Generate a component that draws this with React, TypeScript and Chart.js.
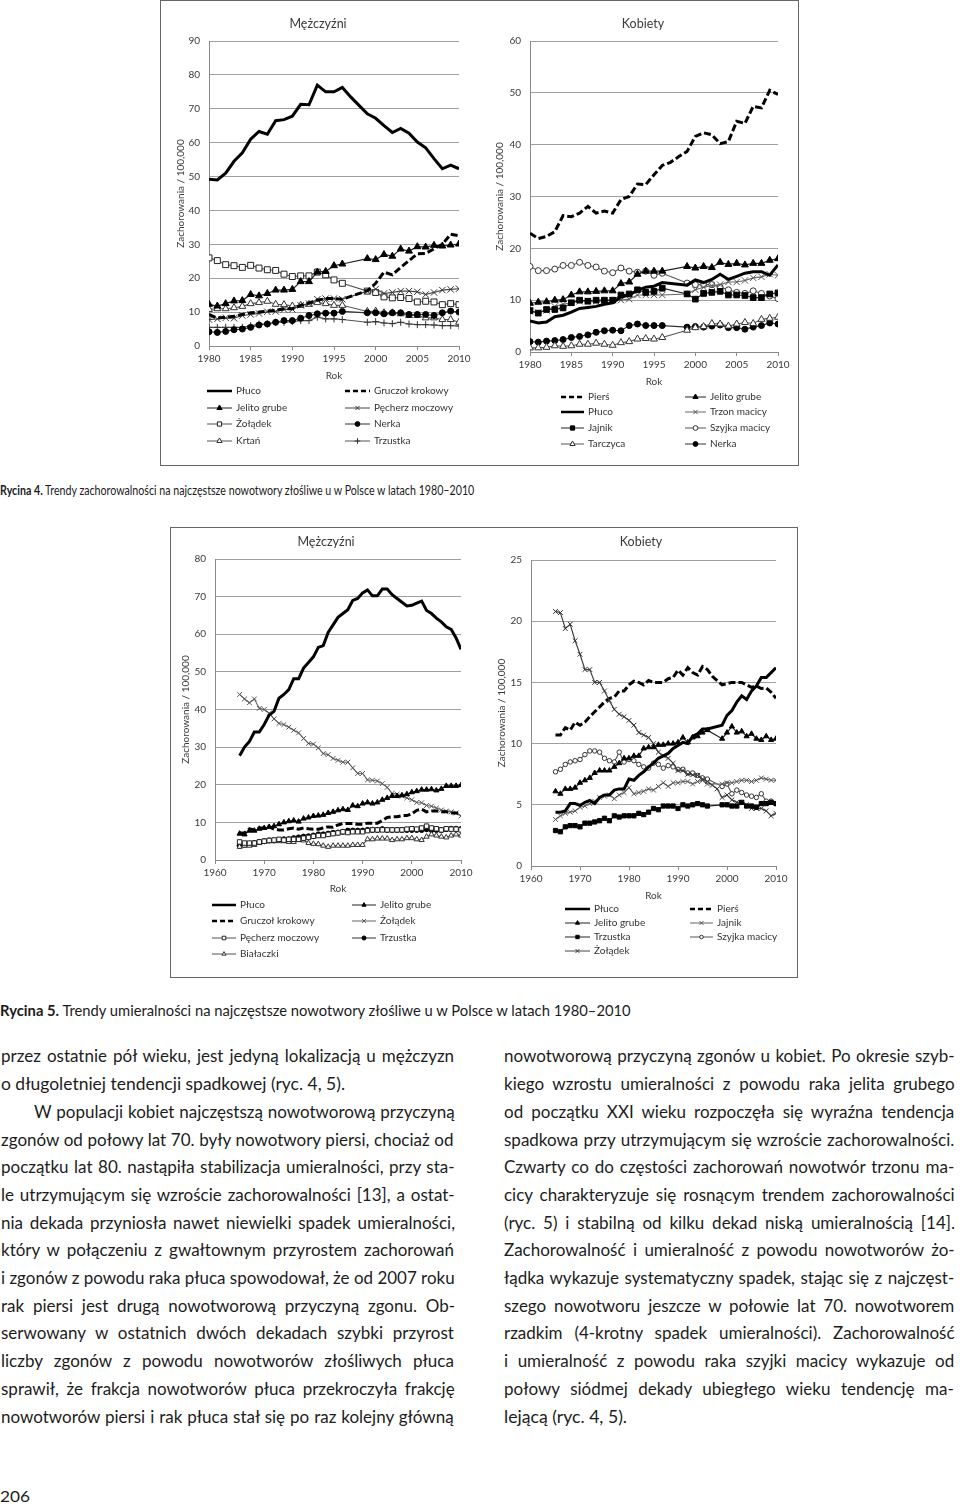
import React, { useEffect, useRef } from 'react';
import { Chart, registerables } from 'chart.js';

Chart.register(...registerables);
Chart.defaults.font.family = 'Lato';

// ---------------- DATA ----------------
const yearsInc = [1980, 1981, 1982, 1983, 1984, 1985, 1986, 1987, 1988, 1989, 1990, 1991, 1992, 1993, 1994, 1995, 1996, 1997, 1998, 1999, 2000, 2001, 2002, 2003, 2004, 2005, 2006, 2007, 2008, 2009, 2010];
const yearsMort = [1965, 1966, 1967, 1968, 1969, 1970, 1971, 1972, 1973, 1974, 1975, 1976, 1977, 1978, 1979, 1980, 1981, 1982, 1983, 1984, 1985, 1986, 1987, 1988, 1989, 1990, 1991, 1992, 1993, 1994, 1995, 1996, 1997, 1998, 1999, 2000, 2001, 2002, 2003, 2004, 2005, 2006, 2007, 2008, 2009, 2010];

const incTicksY_M = { max: 90, step: 10 };
const incTicksY_F = { max: 60, step: 10 };
const mortTicksY_M = { max: 80, step: 10 };
const mortTicksY_F = { max: 25, step: 5 };

// Rycina 4 – Mężczyźni (zachorowalność)
const mLungInc = [49.2, 49, 51, 54.5, 57, 61, 63.3, 62.5, 66.5, 66.8, 67.8, 71.3, 71.2, 77, 75, 75, 76.3, 73.5, 71, 68.5, 67.2, 65, 63, 64.2, 62.8, 60.2, 58.5, 55.3, 52.3, 53.4, 52.3];
const mProstateInc = [9.3, 8.2, 8.5, 8.8, 9.3, 9.8, 10, 10.3, 10.5, 11, 11, 12, 12.7, 13.5, 14, 14, 13.8, null, null, 16.3, 18.5, 21.8, 21, 23.2, 25.2, 27.2, 27.3, 28.7, 30, 33, 32.5];
const mColonInc = [12.3, 11.8, 12.5, 13.3, 13.4, 15.2, 14.8, 15.5, 16.5, 16.5, 16.7, 19, 19, 21.8, 22, 23.7, 24.2, null, null, 25.8, 25.5, 27, 26.5, 28.6, 28, 29.3, 29.2, 29.7, 29.5, 29.8, 30.1];
const mBladderInc = [7.8, 8, 8.3, 8.2, 9, 9.3, 9.6, 10.1, 10.2, 10.8, 10.8, 12, 12.5, 13.8, 14, 14, 13.8, null, null, 16.2, 16.8, 15.5, 15.8, 16.2, 16.2, 16, 15.2, 15.8, 16.5, 16.7, 16.9];
const mStomachInc = [26, 25.2, 24, 23.7, 23.2, 23.8, 23, 22.5, 22.3, 21.2, 20.5, 20.7, 20.7, 21.8, 21, 19.5, 18.5, null, null, 16.2, 15.8, 14.5, 14.2, 14.3, 14, 13, 13.2, 13, 12.2, 12.5, 12.2];
const mKidneyInc = [4.2, 4, 4.3, 4.8, 5, 5.5, 6.2, 6.5, 7, 7.5, 7.5, 8.2, 9, 9.5, 9.7, 9.7, 10.2, null, null, 9.8, 9.8, 9.5, 9.8, 9.8, 9.3, 9.3, 9.3, 9, 9.8, 10.3, 10];
const mLarynxInc = [10.8, 11, 11, 11.3, 11.7, 12.5, 12.8, 13.2, 12.3, 12.2, 11.8, 12, 12.3, 12.8, 12.5, 12, 12, null, null, 10.2, 10.3, 9.8, 9.8, 9.5, 9, 9, 8.3, 8.3, 7.8, 7.8, 7];
const mPancreasInc = [5.5, 5.5, 5.5, 5.5, 5.5, 6, 6.5, 6.5, 7, 7, 7.2, 7.5, 7.5, 8.5, 8, 8, 7.8, null, null, 7, 7.2, 6.8, 6.6, 7, 6.5, 6.3, 6.3, 6.2, 6, 6, 5.9];

// Rycina 4 – Kobiety (zachorowalność)
const fBreastInc = [22.9, 21.9, 22.3, 23.2, 26.3, 26.1, 26.8, 28.1, 26.8, 27.2, 26.8, 29.4, 30, 32.4, 32.3, 34.2, 36, 36.6, 37.7, 38.7, 41.6, 42.3, 41.9, 40.2, 40.6, 44.5, 44.1, 47.4, 47.1, 50.5, 49.7];
const fLungInc = [6, 5.6, 5.8, 6.8, 7.1, 7.7, 8.4, 8.6, 8.8, 9.2, 9.5, 10.6, 11, 11.9, 12.5, 12.7, 13.4, null, null, 12.9, 13.9, 13.4, 14, 15, 14, 14.6, 15.2, 15.5, 15.5, 14.8, 16.8];
const fOvaryInc = [8, 7.5, 8.2, 8.2, 8.5, 9.5, 10, 9.8, 10, 10, 10, 11, 11.2, 12, 11.5, 11.7, 12.3, null, null, 11.2, 10.2, 11.3, 11.5, 11.7, 11, 11, 10.9, 10.5, 10.5, 11.2, 11.4];
const fThyroidInc = [0.8, 0.8, 0.9, 1.2, 1.1, 1.2, 1.5, 1.5, 1.7, 1.5, 1.3, 1.8, 2, 2.5, 2.6, 2.5, 2.8, null, null, 4.2, 4.7, 4.9, 5.5, 5.4, 5, 5.4, 5.7, 5.5, 6.3, 6.5, 6.7];
const fColonInc = [9.4, 9.6, 9.7, 10, 10.1, 11, 11.6, 11.6, 11.7, 11.8, 11.8, 13.2, 13.5, 15, 15.6, 15.6, 15.6, null, null, 16.5, 16.2, 16.5, 16.3, 17.3, 16.9, 17.1, 16.8, 17.1, 17.1, 17.7, 18];
const fCorpusInc = [7.8, 7.6, 8, 8.8, 9.2, 9.5, 9.8, 9.8, 9.8, 9.8, 10, 10, 10.2, 11, 11, 11, 11, null, null, 11.2, 12, 12.5, 12.8, 13, 13.5, 13.5, 13.8, 14.3, 14.5, 15, 14.8];
const fCervixInc = [16.5, 15.7, 15.7, 16, 16.7, 16.7, 17.3, 16.7, 16.4, 15.6, 15.3, 16.2, 15.6, 15.4, 15.6, 14.8, 15.2, null, null, 13.3, 13, 13, 13, 12.5, 12, 11.5, 11.3, 11.8, 11.3, 10.8, 10.3];
const fKidneyInc = [2, 1.9, 2.1, 2.2, 2.4, 2.8, 3, 3.3, 3.8, 4.1, 4.2, 4.1, 5.1, 5.4, 5.1, 5.1, 5.1, null, null, 4.8, 4.9, 4.8, 5, 5.2, 4.7, 4.7, 4.4, 4.8, 5.1, 5.6, 5.4];

// Rycina 5 – Mężczyźni (umieralność)
const mLungMort = [27.7, 30, 31.5, 34, 34, 36, 38.5, 39.5, 43, 44, 45.3, 48.2, 48.2, 51, 52.5, 54, 56.5, 57, 60.5, 62.5, 64.5, 65.5, 66.5, 69, 69.5, 71, 71.8, 70.2, 70.2, 72, 72, 70.5, 69.5, 68.5, 67.5, 67.7, 68.3, 68.8, 66.3, 65.5, 64.3, 63.3, 62, 61.3, 59, 56];
const mProstateMort = [7.2, 7.2, 8.3, 8, 8.5, 8.5, 8.8, 8.2, 8, 8, 8.3, 8.5, 8.2, 8.5, 8.3, 8.2, 8.2, 8.5, 8.8, 8.7, 9.3, 9.7, 9.7, 9.7, 9.5, 9.5, 9.8, 9.8, 9.8, 10.5, 11.3, 11.5, 11.5, 11.8, 11.8, 12.3, 13.2, 13.5, 12.8, 13, 13, 12.8, 12.8, 12.5, 12.5, 12.3];
const mBladderMort = [4.8, 4.5, 4.5, 4.5, 4.8, 5, 5.2, 5.3, 5.5, 5.3, 5.5, 5.5, 5.5, 5.8, 6, 6.3, 6.5, 6.5, 6.8, 7, 7.2, 7.5, 7.3, 7.5, 7.5, 7.5, 7.8, 8, 8, 8, 8, 8, 8, 8, 8.2, 8.3, 8.2, 8.5, 9, 8.5, 8.3, 8, 8.3, 8.2, 8.2, 8];
const mLeukemiaMort = [3.5, 3.8, 3.8, 4, 4.5, 4.8, 5, 5, 5, 5, 4.8, 4.8, 5.3, 5.2, 4.5, 4.3, 4.2, 3.8, 3.5, 3.8, 3.8, 3.8, 3.8, 4, 4, 4, 5.5, 5.5, 5.7, 5.7, 5.7, 5.3, 5.5, 5.5, 5.8, 5.8, 5.5, 5.3, 6.2, 6.8, 6.5, 6.2, 6, 6.5, 6.8, 6.5];
const mColonMort = [7, 6.8, 7.8, 7.8, 8.3, 8.5, 8.8, 9, 9.5, 10, 10.3, 10.5, 10.2, 11, 11.3, 11.7, 11.8, 12, 12.5, 12.8, 13.2, 13.5, 13.3, 14.5, 14.3, 15, 15.3, 15, 15.3, 16, 16.5, 17, 17, 17.2, 17.5, 18, 18.3, 18.7, 18.7, 18.8, 18.5, 18.9, 19.7, 19.7, 19.7, 19.9];
const mStomachMort = [44, 42.8, 41.8, 42.8, 40.3, 40, 39, 37.5, 36.3, 36, 35.3, 34.5, 33.8, 32.3, 31, 30.8, 29.8, 28.3, 28, 27, 26.5, 26, 26, 24.5, 23, 23, 21.3, 21.2, 21, 20.3, 19.3, 17.7, 17.5, 17, 16.5, 16, 15.3, 15.2, 14.5, 14.3, 13.8, 13.3, 13, 12.8, 12.5, 11.7];
const mPancreasMort = [3.8, 4, 4.2, 4.5, 4.8, 5, 5.2, 5.2, 5.3, 5.5, 5.5, 5.8, 6, 6.2, 6.3, 6.5, 6.8, 6.8, 7, 7.2, 7.3, 7.5, 7.8, 7.8, 7.8, 7.8, 8, 8, 8, 8.2, 8, 8, 8, 8, 8, 8, 8, 8, 8.2, 8, 8, 8, 8.2, 8.3, 8.3, 8.2];

// Rycina 5 – Kobiety (umieralność)
const fLungMort = [4.4, 4.4, 4.5, 5.1, 5.1, 4.95, 5.2, 5.35, 5.1, 5.6, 5.8, 5.8, 6.2, 6.3, 6.3, 7.1, 7, 7.4, 7.7, 8.1, 8.4, 8.8, 9, 9.2, 9.6, 9.85, 10.1, 10, 10.6, 10.8, 11.2, 11.2, null, null, 11.5, 12.3, 12.7, 13.4, 13.9, 13.6, 14.3, 14.7, 15.4, 15.4, 15.8, 16.2];
const fColonMort = [6.1, 5.9, 6.3, 6.3, 6.4, 6.8, 7, 7.2, 7.6, 7.8, 7.8, 7.8, 8.1, 8.4, 8.8, 8.8, 9, 9, 9.6, 9.7, 9.7, 9.9, 9.9, 10, 10, 10.1, 10.5, 10.1, 10.5, 10.6, 10.9, 11.1, null, null, 10.4, 10.9, 11.4, 10.9, 11, 10.6, 10.8, 10.4, 10.3, 10.6, 10.3, 10.4];
const fPancreasMort = [2.9, 2.8, 3.2, 3.3, 3.3, 3.2, 3.5, 3.5, 3.6, 3.7, 3.9, 3.7, 4.1, 4, 4.1, 4.1, 4.1, 4.3, 4.2, 4.4, 4.7, 4.6, 4.9, 4.9, 4.9, 4.7, 5, 4.9, 5, 5.1, 5, 4.9, null, null, 5, 5, 4.9, 4.9, 5.2, 4.9, 4.9, 4.8, 5.1, 5.1, 5.2, 5.1];
const fStomachMort = [20.8, 20.7, 19.4, 19.75, 18.4, 17.3, 16.05, 16.05, 15, 15, 14.3, 13.5, 12.8, 12.4, 12.2, 11.9, 11.5, 10.9, 10.7, 10.5, 10, 9.3, 9, 8.8, 8.4, 7.8, 7.8, 7.5, 7.45, 7.4, 7.1, 6.9, 6.6, 6.3, 5.6, 5.8, 5.4, 5.2, 5.2, 5, 4.7, 4.7, 4.7, 4.5, 4.1, 4.3];
const fBreastMort = [10.7, 10.7, 11.3, 11.1, 11.75, 11.5, 11.75, 12.2, 12.6, 13, 13.4, 13.7, 13.8, 14.3, 14.3, 14.8, 15.1, 15, 14.8, 15.15, 15, 15, 15, 15.3, 15.4, 16, 15.6, 16.2, 15.8, 15.6, 16.3, 16.05, 15.5, 15.15, 14.8, 14.9, 15, 15, 15, 14.8, 14.6, 14.7, 14.5, 14.55, 14.2, 13.7];
const fOvaryMort = [3.8, 4.1, 4.3, 4.4, 4.5, 4.8, 4.9, 5.1, 5.3, 5.6, 5.7, 5.8, 5.5, 5.8, 6, 6.4, 5.9, 6, 6.1, 6.3, 6.2, 6.5, 6.8, 6.5, 6.8, 6.8, 6.9, 6.9, 6.7, 6.9, 7, 6.7, null, null, 6.7, 6.8, 6.8, 6.9, 7, 7, 6.9, 7, 7.2, 7.1, 7, 7];
const fCervixMort = [7.7, 7.9, 8.3, 8.5, 8.6, 8.7, 9.1, 9.4, 9.4, 9.3, 8.8, 8.6, 8.5, 9.3, 8.5, 8.7, 8.6, 8.3, 8.1, 8, 8.4, 8.3, 8, 8.2, 8.1, 7.9, 7.9, 7.6, 7.6, 7.4, 7.2, 7.1, null, null, 6.5, 6.7, 5.9, 6.2, 6, 5.8, 5.7, 5.6, 5.9, 5.3, 5.3, 5.1];

// Text
const caption4 = ['Rycina 4.', ' Trendy zachorowalności na najczęstsze nowotwory złośliwe u w Polsce w latach 1980–2010'];
const caption5 = ['Rycina 5.', ' Trendy umieralności na najczęstsze nowotwory złośliwe u w Polsce w latach 1980–2010'];
const leftLines = [
  'przez ostatnie pół wieku, jest jedyną lokalizacją u mężczyzn',
  'o długoletniej tendencji spadkowej (ryc. 4, 5).',
  'W populacji kobiet najczęstszą nowotworową przyczyną',
  'zgonów od połowy lat 70. były nowotwory piersi, chociaż od',
  'początku lat 80. nastąpiła stabilizacja umieralności, przy sta-',
  'le utrzymującym się wzroście zachorowalności [13], a ostat-',
  'nia dekada przyniosła nawet niewielki spadek umieralności,',
  'który w połączeniu z gwałtownym przyrostem zachorowań',
  'i zgonów z powodu raka płuca spowodował, że od 2007 roku',
  'rak piersi jest drugą nowotworową przyczyną zgonu. Ob-',
  'serwowany w ostatnich dwóch dekadach szybki przyrost',
  'liczby zgonów z powodu nowotworów złośliwych płuca',
  'sprawił, że frakcja nowotworów płuca przekroczyła frakcję',
  'nowotworów piersi i rak płuca stał się po raz kolejny główną',
];
const rightLines = [
  'nowotworową przyczyną zgonów u kobiet. Po okresie szyb-',
  'kiego wzrostu umieralności z powodu raka jelita grubego',
  'od początku XXI wieku rozpoczęła się wyraźna tendencja',
  'spadkowa przy utrzymującym się wzroście zachorowalności.',
  'Czwarty co do częstości zachorowań nowotwór trzonu ma-',
  'cicy charakteryzuje się rosnącym trendem zachorowalności',
  '(ryc. 5) i stabilną od kilku dekad niską umieralnością [14].',
  'Zachorowalność i umieralność z powodu nowotworów żo-',
  'łądka wykazuje systematyczny spadek, stając się z najczęst-',
  'szego nowotworu jeszcze w połowie lat 70. nowotworem',
  'rzadkim (4-krotny spadek umieralności). Zachorowalność',
  'i umieralność z powodu raka szyjki macicy wykazuje od',
  'połowy siódmej dekady ubiegłego wieku tendencję ma-',
  'lejącą (ryc. 4, 5).',
];
const pageNumber = '206';

// ---------------- STYLES ----------------
type Mk = 'none' | 'triangle' | 'rect' | 'circle' | 'crossRot' | 'cross';
interface Style { color: string; width: number; dash?: number[]; marker: Mk; r?: number; fill?: string; stroke?: string; }
interface Series extends Style { label: string; values: (number | null)[]; }

const thickSolid: Style = { color: '#000', width: 3, marker: 'none' };
const thickDash: Style = { color: '#000', width: 3, dash: [7, 3], marker: 'none' };
const filledTri: Style = { color: '#222', width: 1.2, marker: 'triangle', r: 4, fill: '#000', stroke: '#000' };
const openTri: Style = { color: '#555', width: 1.1, marker: 'triangle', r: 4, fill: '#fff', stroke: '#333' };
const openRect: Style = { color: '#555', width: 1.1, marker: 'rect', r: 4.2, fill: '#fff', stroke: '#222' };
const filledRect: Style = { color: '#222', width: 1.2, marker: 'rect', r: 4, fill: '#000', stroke: '#000' };
const filledCircle: Style = { color: '#333', width: 1.2, marker: 'circle', r: 3, fill: '#000', stroke: '#000' };
const openCircle: Style = { color: '#555', width: 1.1, marker: 'circle', r: 3, fill: '#fff', stroke: '#333' };
const xMark: Style = { color: '#444', width: 1.2, marker: 'crossRot', r: 4.5, stroke: '#333' };
const xMarkGray: Style = { color: '#666', width: 1.1, marker: 'crossRot', r: 4.5, stroke: '#555' };
const plusMark: Style = { color: '#555', width: 1.1, marker: 'cross', r: 3.5, stroke: '#333' };

const small = (s: Style, k = 0.75): Style => ({ ...s, r: (s.r || 0) * k });

const seriesTL: Series[] = [
  { label: 'Płuco', values: mLungInc, ...thickSolid },
  { label: 'Gruczoł krokowy', values: mProstateInc, ...thickDash },
  { label: 'Jelito grube', values: mColonInc, ...filledTri },
  { label: 'Pęcherz moczowy', values: mBladderInc, ...xMark },
  { label: 'Żołądek', values: mStomachInc, ...openRect },
  { label: 'Nerka', values: mKidneyInc, ...filledCircle },
  { label: 'Krtań', values: mLarynxInc, ...openTri },
  { label: 'Trzustka', values: mPancreasInc, ...plusMark },
];
const seriesTR: Series[] = [
  { label: 'Pierś', values: fBreastInc, ...thickDash },
  { label: 'Płuco', values: fLungInc, ...thickSolid },
  { label: 'Jajnik', values: fOvaryInc, ...filledRect },
  { label: 'Tarczyca', values: fThyroidInc, ...openTri },
  { label: 'Jelito grube', values: fColonInc, ...filledTri },
  { label: 'Trzon macicy', values: fCorpusInc, ...xMarkGray },
  { label: 'Szyjka macicy', values: fCervixInc, ...openCircle },
  { label: 'Nerka', values: fKidneyInc, ...filledCircle },
];
const seriesBL: Series[] = [
  { label: 'Płuco', values: mLungMort, ...thickSolid },
  { label: 'Gruczoł krokowy', values: mProstateMort, ...thickDash },
  { label: 'Pęcherz moczowy', values: mBladderMort, ...small(openRect) },
  { label: 'Białaczki', values: mLeukemiaMort, ...small(openTri) },
  { label: 'Jelito grube', values: mColonMort, ...small(filledTri) },
  { label: 'Żołądek', values: mStomachMort, ...small(xMarkGray) },
  { label: 'Trzustka', values: mPancreasMort, ...small(filledCircle, 0.85) },
];
const seriesBR: Series[] = [
  { label: 'Płuco', values: fLungMort, ...thickSolid },
  { label: 'Jelito grube', values: fColonMort, ...small(filledTri) },
  { label: 'Trzustka', values: fPancreasMort, ...small(filledRect) },
  { label: 'Żołądek', values: fStomachMort, ...small(xMark) },
  { label: 'Pierś', values: fBreastMort, ...thickDash },
  { label: 'Jajnik', values: fOvaryMort, ...small(xMarkGray) },
  { label: 'Szyjka macicy', values: fCervixMort, ...small(openCircle) },
];

// ---------------- DRAW HELPERS ----------------
function drawMarker(ctx: CanvasRenderingContext2D, s: Style, x: number, y: number, r: number) {
  ctx.save();
  ctx.lineWidth = 1;
  ctx.setLineDash([]);
  ctx.strokeStyle = s.stroke || s.color;
  ctx.fillStyle = s.fill || s.color;
  ctx.beginPath();
  if (s.marker === 'triangle') {
    ctx.moveTo(x, y - r);
    ctx.lineTo(x + r * 0.866, y + r * 0.5);
    ctx.lineTo(x - r * 0.866, y + r * 0.5);
    ctx.closePath();
    ctx.fill();
    ctx.stroke();
  } else if (s.marker === 'rect') {
    const w = r * Math.SQRT1_2;
    ctx.rect(x - w, y - w, 2 * w, 2 * w);
    ctx.fill();
    ctx.stroke();
  } else if (s.marker === 'circle') {
    ctx.arc(x, y, r, 0, Math.PI * 2);
    ctx.fill();
    ctx.stroke();
  } else if (s.marker === 'crossRot') {
    const d = r * Math.SQRT1_2;
    ctx.moveTo(x - d, y - d);
    ctx.lineTo(x + d, y + d);
    ctx.moveTo(x - d, y + d);
    ctx.lineTo(x + d, y - d);
    ctx.stroke();
  } else if (s.marker === 'cross') {
    ctx.moveTo(x, y - r);
    ctx.lineTo(x, y + r);
    ctx.moveTo(x - r, y);
    ctx.lineTo(x + r, y);
    ctx.stroke();
  }
  ctx.restore();
}

interface LegendCol { x: number; len: number; items: number[]; }
interface Spec {
  years: number[];
  series: Series[];
  yMax: number;
  yStep: number;
  xMin: number;
  xMax: number;
  xStep: number;
  yW: number;
  padR: number;
  padT: number;
  padB: number;
  xH: number;
  yTitlePad: number;
  title: { text: string; x: number; y: number };
  legend: { rows: number[]; cols: LegendCol[] };
}

function makeConfig(spec: Spec): any {
  const tickFont = { family: 'Lato', size: 10 };
  const overlay = {
    id: 'overlay',
    afterDraw(chart: any) {
      const ctx: CanvasRenderingContext2D = chart.ctx;
      ctx.save();
      ctx.fillStyle = '#3a3a3a';
      ctx.font = '12.5px Lato';
      ctx.textAlign = 'center';
      ctx.textBaseline = 'middle';
      ctx.fillText(spec.title.text, spec.title.x, spec.title.y);
      ctx.font = '10px Lato';
      ctx.textAlign = 'left';
      spec.legend.cols.forEach((col) => {
        col.items.forEach((di, ri) => {
          const s = spec.series[di];
          const y = spec.legend.rows[ri];
          ctx.save();
          ctx.strokeStyle = s.color;
          ctx.lineWidth = s.width > 2 ? 2.5 : 1;
          ctx.setLineDash(s.dash ? [5, 3] : []);
          ctx.beginPath();
          ctx.moveTo(col.x, y);
          ctx.lineTo(col.x + col.len, y);
          ctx.stroke();
          ctx.restore();
          if (s.marker !== 'none') drawMarker(ctx, s, col.x + col.len / 2, y, Math.min(3, (s.r || 3) * 0.8));
          ctx.fillStyle = '#333';
          ctx.fillText(s.label, col.x + col.len + 4, y);
        });
      });
      ctx.restore();
    },
  };
  return {
    type: 'line',
    data: {
      datasets: spec.series.map((s) => ({
        label: s.label,
        data: spec.years.map((yr, i) => ({ x: yr, y: s.values[i] })),
        borderColor: s.color,
        borderWidth: s.width,
        borderDash: s.dash || [],
        pointStyle: s.marker === 'none' ? 'circle' : s.marker,
        pointRadius: s.marker === 'none' ? 0 : s.r,
        pointBackgroundColor: s.fill || s.color,
        pointBorderColor: s.stroke || s.color,
        pointBorderWidth: 1,
        spanGaps: true,
        tension: 0,
        fill: false,
      })),
    },
    options: {
      responsive: false,
      animation: false,
      events: [],
      layout: { padding: { left: 0, right: spec.padR, top: spec.padT, bottom: spec.padB } },
      plugins: { legend: { display: false }, tooltip: { enabled: false }, title: { display: false } },
      scales: {
        x: {
          type: 'linear',
          min: spec.xMin,
          max: spec.xMax,
          ticks: { stepSize: spec.xStep, padding: 3, font: tickFont, color: '#3a3a3a', maxRotation: 0, callback: (v: any) => String(v) },
          grid: { drawOnChartArea: false, drawTicks: true, tickLength: 4, color: '#8a8a8a' },
          border: { color: '#8a8a8a' },
          title: { display: true, text: 'Rok', font: tickFont, color: '#3a3a3a', padding: { top: 0, bottom: 4 } },
          afterFit: (s: any) => { s.height = spec.xH; },
        },
        y: {
          min: 0,
          max: spec.yMax,
          ticks: { stepSize: spec.yStep, padding: 9, font: tickFont, color: '#3a3a3a' },
          grid: { color: '#a0a0a0', drawTicks: false },
          border: { color: '#8a8a8a' },
          title: { display: true, text: 'Zachorowania / 100,000', font: tickFont, color: '#3a3a3a', padding: { top: spec.yTitlePad, bottom: 0 } },
          afterFit: (s: any) => { s.width = spec.yW; },
        },
      },
    },
    plugins: [overlay],
  };
}

function ChartCanvas({ left, top, width, height, spec }: { left: number; top: number; width: number; height: number; spec: Spec }) {
  const ref = useRef<HTMLCanvasElement>(null);
  useEffect(() => {
    const chart = new Chart(ref.current as HTMLCanvasElement, makeConfig(spec));
    return () => chart.destroy();
  }, []);
  return (
    <div style={{ position: 'absolute', left, top, width, height }}>
      <canvas ref={ref} width={width} height={height} style={{ width, height, display: 'block' }} />
    </div>
  );
}

// ---------------- TEXT HELPERS ----------------
let measureCtx: CanvasRenderingContext2D | null = null;
function measure(text: string, font: string) {
  if (!measureCtx) measureCtx = (document.createElement('canvas').getContext('2d') as CanvasRenderingContext2D);
  measureCtx.font = font;
  return measureCtx.measureText(text).width;
}

function FitLine({ parts, x, y, width, size, mode, color = '#1c1c1c' }: { parts: { t: string; b?: boolean }[]; x: number; y: number; width: number; size: number; mode: 'justify' | 'scale'; color?: string }) {
  let natural = 0;
  let spaces = 0;
  for (const p of parts) {
    natural += measure(p.t, `${p.b ? 'bold ' : ''}${size}px Lato`);
    spaces += (p.t.match(/ /g) || []).length;
  }
  let ws = 0;
  let sx = 1;
  if (mode === 'justify' && natural <= width && spaces > 0) ws = (width - natural) / spaces;
  else sx = width / natural;
  const lh = Math.round(size * 1.3);
  return (
    <div
      style={{
        position: 'absolute',
        left: x,
        top: y - size * 0.74,
        height: lh,
        lineHeight: lh + 'px',
        fontSize: size,
        fontFamily: 'Lato',
        whiteSpace: 'pre',
        wordSpacing: ws,
        transform: sx !== 1 ? `scaleX(${sx})` : undefined,
        transformOrigin: '0 50%',
        color,
      }}
    >
      {parts.map((p, i) => (
        <span key={i} style={{ fontWeight: p.b ? 700 : 400 }}>{p.t}</span>
      ))}
    </div>
  );
}

// ---------------- SPECS ----------------
const specTL: Spec = {
  years: yearsInc, series: seriesTL, yMax: incTicksY_M.max, yStep: incTicksY_M.step, xMin: 1980, xMax: 2010, xStep: 5,
  yW: 48, padR: 21, padT: 40, padB: 78, xH: 40, yTitlePad: 14,
  title: { text: 'Mężczyźni', x: 157, y: 23 },
  legend: { rows: [390, 407, 423, 440], cols: [{ x: 46, len: 25, items: [0, 2, 4, 6] }, { x: 184, len: 25, items: [1, 3, 5, 7] }] },
};
const specTR: Spec = {
  years: yearsInc, series: seriesTR, yMax: incTicksY_F.max, yStep: incTicksY_F.step, xMin: 1980, xMax: 2010, xStep: 5,
  yW: 50, padR: 19, padT: 40, padB: 72, xH: 40, yTitlePad: 14,
  title: { text: 'Kobiety', x: 163, y: 23 },
  legend: { rows: [396, 411, 427, 443], cols: [{ x: 81, len: 23, items: [0, 1, 2, 3] }, { x: 205, len: 21, items: [4, 5, 6, 7] }] },
};
const specBL: Spec = {
  years: yearsMort, series: seriesBL, yMax: mortTicksY_M.max, yStep: mortTicksY_M.step, xMin: 1960, xMax: 2010, xStep: 10,
  yW: 44, padR: 23, padT: 31, padB: 77, xH: 39, yTitlePad: 9,
  title: { text: 'Mężczyźni', x: 155, y: 14 },
  legend: { rows: [377, 393, 410, 426], cols: [{ x: 41, len: 24, items: [0, 1, 2, 3] }, { x: 181, len: 24, items: [4, 5, 6] }] },
};
const specBR: Spec = {
  years: yearsMort, series: seriesBR, yMax: mortTicksY_F.max, yStep: mortTicksY_F.step, xMin: 1960, xMax: 2010, xStep: 10,
  yW: 47, padR: 20, padT: 32, padB: 70, xH: 40, yTitlePad: 12,
  title: { text: 'Kobiety', x: 157, y: 14 },
  legend: { rows: [381, 395, 409, 423], cols: [{ x: 81, len: 25, items: [0, 1, 2, 3] }, { x: 206, len: 23, items: [4, 5, 6] }] },
};

const lineY0 = 1058;
const lineGap = 27.7;

export default function App() {
  return (
    <div style={{ position: 'fixed', left: 0, top: 0, width: 960, height: 1506, overflow: 'hidden', background: '#fff', fontFamily: 'Lato' }}>
      <div style={{ position: 'absolute', left: 160, top: 0, width: 639, height: 466, border: '1px solid #666', boxSizing: 'border-box' }} />
      <ChartCanvas left={161} top={1} width={319} height={463} spec={specTL} />
      <ChartCanvas left={480} top={1} width={317} height={463} spec={specTR} />

      <FitLine parts={[{ t: caption4[0], b: true }, { t: caption4[1] }]} x={0} y={492} width={476} size={12.5} mode="scale" />

      <div style={{ position: 'absolute', left: 170, top: 527, width: 628, height: 451, border: '1px solid #666', boxSizing: 'border-box' }} />
      <ChartCanvas left={171} top={528} width={313} height={448} spec={specBL} />
      <ChartCanvas left={484} top={528} width={312} height={448} spec={specBR} />

      <FitLine parts={[{ t: caption5[0], b: true }, { t: caption5[1] }]} x={0} y={1011} width={633} size={15} mode="scale" />

      {leftLines.map((t, i) => {
        const indent = i === 2 ? 33 : 0;
        const last = i === 1;
        return (
          <FitLine key={'l' + i} parts={[{ t }]} x={1 + indent} y={lineY0 + i * lineGap} width={last ? 344 : 454 - indent} size={17} mode={last ? 'scale' : 'justify'} />
        );
      })}
      {rightLines.map((t, i) => {
        const last = i === rightLines.length - 1;
        return (
          <FitLine key={'r' + i} parts={[{ t }]} x={504} y={lineY0 + i * lineGap} width={last ? 123 : 451} size={17} mode={last ? 'scale' : 'justify'} />
        );
      })}

      <FitLine parts={[{ t: pageNumber }]} x={0} y={1497} width={30} size={16} mode="scale" />
    </div>
  );
}
